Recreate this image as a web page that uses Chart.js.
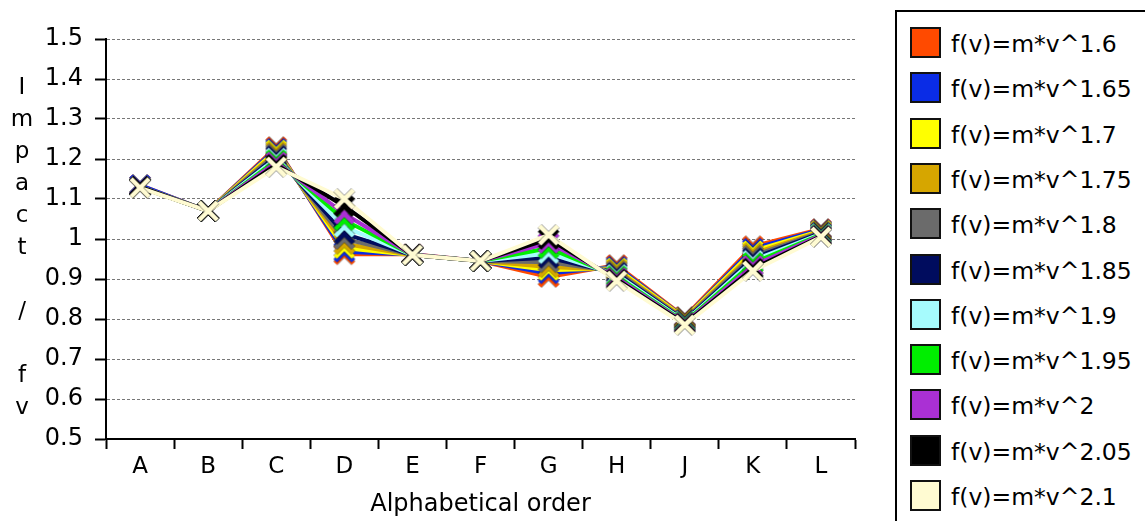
<!DOCTYPE html>
<html>
<head>
<meta charset="utf-8">
<script src="https://cdn.jsdelivr.net/npm/chart.js@4/dist/chart.umd.min.js"></script>
<style>
    body { margin: 0; background: #fff; overflow: hidden; }
    #wrap { position: relative; width: 1145px; height: 521px; }
    #chart { position: absolute; left: 0; top: 0; }
    #legend {
        position: absolute; left: 895px; top: 10px; width: 280px; height: 540px;
        border: 2px solid #000; box-sizing: border-box;
        font-family: "DejaVu Sans", sans-serif; font-size: 23.5px; color: #000;
    }
    .item { position: absolute; left: 13px; height: 30px; }
    .box { position: absolute; left: 0; top: 0; width: 31px; height: 31px; border: 2px solid #111; box-sizing: border-box; }
    .lbl { position: absolute; left: 41px; top: 6px; white-space: nowrap; line-height: 23px; }
</style>
</head>
<body>
<div id="wrap">
    <canvas id="chart" width="880" height="521"></canvas>
    <div id="legend"></div>
</div>
<script>
// categories and y axis
const categories = ['A', 'B', 'C', 'D', 'E', 'F', 'G', 'H', 'J', 'K', 'L'];
const yTitle = 'Impact / fv';
const xTitle = 'Alphabetical order';

// one array per exponent
const f160 = [1.135, 1.07, 1.230, 0.962, 0.962, 0.945, 0.905, 0.935, 0.805, 0.982, 1.025];
const f165 = [1.135, 1.07, 1.226, 0.968, 0.961, 0.945, 0.914, 0.931, 0.803, 0.976, 1.023];
const f170 = [1.130, 1.07, 1.222, 0.977, 0.960, 0.945, 0.922, 0.927, 0.802, 0.970, 1.021];
const f175 = [1.130, 1.07, 1.217, 0.988, 0.960, 0.945, 0.930, 0.923, 0.800, 0.964, 1.019];
const f180 = [1.130, 1.07, 1.212, 1.000, 0.960, 0.945, 0.942, 0.919, 0.798, 0.958, 1.017];
const f185 = [1.130, 1.07, 1.207, 1.013, 0.960, 0.945, 0.953, 0.915, 0.796, 0.952, 1.015];
const f190 = [1.130, 1.07, 1.202, 1.030, 0.960, 0.945, 0.964, 0.911, 0.794, 0.946, 1.013];
const f195 = [1.130, 1.07, 1.197, 1.047, 0.960, 0.945, 0.977, 0.907, 0.792, 0.940, 1.011];
const f200 = [1.130, 1.07, 1.192, 1.063, 0.960, 0.945, 0.990, 0.903, 0.790, 0.933, 1.009];
const f205 = [1.130, 1.07, 1.186, 1.082, 0.960, 0.945, 1.000, 0.899, 0.788, 0.926, 1.007];
const f210 = [1.128, 1.07, 1.180, 1.100, 0.960, 0.945, 1.010, 0.895, 0.785, 0.920, 1.005];

const seriesLabels = ['f(v)=m*v^1.6', 'f(v)=m*v^1.65', 'f(v)=m*v^1.7', 'f(v)=m*v^1.75', 'f(v)=m*v^1.8',
    'f(v)=m*v^1.85', 'f(v)=m*v^1.9', 'f(v)=m*v^1.95', 'f(v)=m*v^2', 'f(v)=m*v^2.05', 'f(v)=m*v^2.1'];
const seriesValues = [f160, f165, f170, f175, f180, f185, f190, f195, f200, f205, f210];
const seriesColors = ['#ff4a00', '#0a2ce6', '#ffff00', '#d6a600', '#6b6b6b', '#000c5e',
    '#a6fbfd', '#00ee00', '#aa30d4', '#000000', '#fffbd2'];

// X shaped marker with a thin dark rim
function makeCross(color) {
    const c = document.createElement('canvas');
    c.width = 26; c.height = 26;
    const g = c.getContext('2d');
    g.lineCap = 'butt';
    g.beginPath();
    g.moveTo(4, 4); g.lineTo(22, 22);
    g.moveTo(22, 4); g.lineTo(4, 22);
    g.strokeStyle = 'rgba(0,0,0,0.4)';
    g.lineWidth = 6;
    g.stroke();
    g.strokeStyle = color;
    g.lineWidth = 4.5;
    g.stroke();
    return c;
}

// stacked letters for the y title
const yTitlePlugin = {
    id: 'yTitle',
    afterDraw(chart) {
        const ctx = chart.ctx;
        ctx.save();
        ctx.font = '23px "DejaVu Sans", sans-serif';
        ctx.fillStyle = '#000';
        ctx.textAlign = 'center';
        ctx.textBaseline = 'middle';
        yTitle.split('').forEach((ch, i) => {
            ctx.fillText(ch, 22, 88 + i * 32);
        });
        ctx.restore();
    }
};

const n = seriesLabels.length;
const datasets = seriesLabels.map((label, i) => ({
    label: label,
    data: seriesValues[i],
    borderColor: seriesColors[i],
    backgroundColor: seriesColors[i],
    borderWidth: 4,
    pointStyle: makeCross(seriesColors[i]),
    pointRadius: 11,
    tension: 0,
    order: n - 1 - i
}));

new Chart(document.getElementById('chart'), {
    type: 'line',
    data: { labels: categories, datasets: datasets },
    options: {
        responsive: false,
        animation: false,
        layout: { padding: { top: 39, right: 25, bottom: 0, left: 0 } },
        plugins: { legend: { display: false }, tooltip: { enabled: false } },
        scales: {
            x: {
                offset: true,
                grid: { offset: true, drawOnChartArea: false, tickLength: 10, tickColor: '#000', tickWidth: 2 },
                border: { color: '#000', width: 2 },
                ticks: { color: '#000', padding: 4, font: { family: 'DejaVu Sans', size: 23 }, maxRotation: 0 },
                title: { display: true, text: xTitle, color: '#000', padding: 2, font: { family: 'DejaVu Sans', size: 24 } },
                afterFit: s => { s.height = 82; }
            },
            y: {
                min: 0.5,
                max: 1.5,
                grid: { color: '#777', lineWidth: 1, tickColor: '#000', tickWidth: 2, tickLength: 11 },
                border: { color: '#000', width: 2, dash: [3, 2] },
                ticks: {
                    stepSize: 0.1, color: '#000', padding: 12,
                    font: { family: 'DejaVu Sans', size: 24 },
                    callback: v => String(parseFloat(v.toFixed(1)))
                },
                afterFit: s => { s.width = 106; }
            }
        }
    },
    plugins: [yTitlePlugin]
});

// legend box built from the same series arrays
const legend = document.getElementById('legend');
seriesLabels.forEach((label, i) => {
    const item = document.createElement('div');
    item.className = 'item';
    item.style.top = (15 + i * 45.3) + 'px';
    item.innerHTML = '<div class="box" style="background:' + seriesColors[i] + '"></div><div class="lbl">' + label + '</div>';
    legend.appendChild(item);
});
</script>
</body>
</html>
